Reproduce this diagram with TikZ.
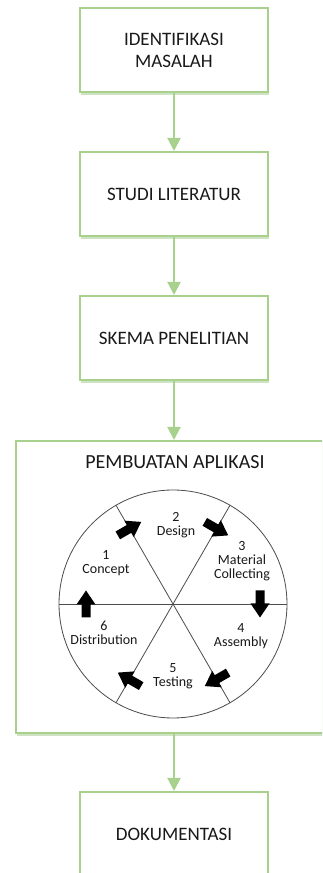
\documentclass[tikz,border=0pt]{standalone}
\usepackage{fontspec}
\setmainfont{Carlito}
\usetikzlibrary{arrows.meta,shadows}

\definecolor{daun}{HTML}{A9D18E}
\definecolor{bayang}{HTML}{CFE3C2}

\tikzset{
	tahap/.style={draw=daun, line width=2pt, fill=white, minimum width=188pt, minimum height=84pt,
		align=center, text=black!90, font=\fontsize{19}{22}\selectfont,
		drop shadow={shadow xshift=1pt, shadow yshift=-3pt, fill=bayang, opacity=1}},
	alur/.style={draw=daun, line width=2pt, -{Triangle[width=13pt,length=13pt]}},
	fase/.style={align=center, text=black!90, font=\fontsize{14}{14}\selectfont, inner sep=1pt},
	jari/.style={draw=black!70, line width=0.8pt}
}

\begin{document}
\begin{tikzpicture}[x=1pt,y=1pt]
		\useasboundingbox (0,0) rectangle (322,873);
		\clip (0,0) rectangle (322,873);
		
		% tahapan penelitian
		\node[tahap] (identifikasi) at (174,823) {IDENTIFIKASI\\MASALAH};
		\node[tahap] (studi) at (174,679) {STUDI LITERATUR};
		\node[tahap] (skema) at (174,535) {SKEMA PENELITIAN};
		\node[tahap, anchor=north west, minimum width=330pt, minimum height=292pt] (aplikasi) at (15,433) {};
		\node[tahap] (dokumentasi) at (174,39) {DOKUMENTASI};
		
		\node[text=black!90, font=\fontsize{20}{22}\selectfont] (judul) at (175,411) {PEMBUATAN APLIKASI};
		
		% siklus pembuatan
		\node[circle, jari, minimum size=228pt, inner sep=0pt] (roda) at (173,269) {};
		\foreach \a/\b in {0/180,60/240,120/300}
			\draw[jari] (roda.\a) -- (roda.\b);
		
		\node[fase] (concept) at (106,310) {1\\Concept};
		\node[fase] (design) at (176,348) {2\\Design};
		\node[fase] (material) at (242,312) {3\\Material\\Collecting};
		\node[fase] (assembly) at (241,237) {4\\Assembly};
		\node[fase] (testing) at (173,197) {5\\Testing};
		\node[fase] (distribution) at (104,240) {6\\Distribution};
		
		\foreach \a in {180,120,60,0,-60,-120}
			\fill[black, shift={(roda.center)}, rotate=\a-90, yshift=87pt]
			(-13.5,-4.5) -- (-0.5,-4.5) -- (-0.5,-9.5) -- (13.5,0) -- (-0.5,9.5) -- (-0.5,4.5) -- (-13.5,4.5) -- cycle;
		
		% alur
		\draw[alur] (identifikasi) -- (studi);
		\draw[alur] (studi) -- (skema);
		\draw[alur] (skema) -- (skema |- aplikasi.north);
		\draw[alur] (aplikasi.south -| skema) -- (dokumentasi);
\end{tikzpicture}
\end{document}
